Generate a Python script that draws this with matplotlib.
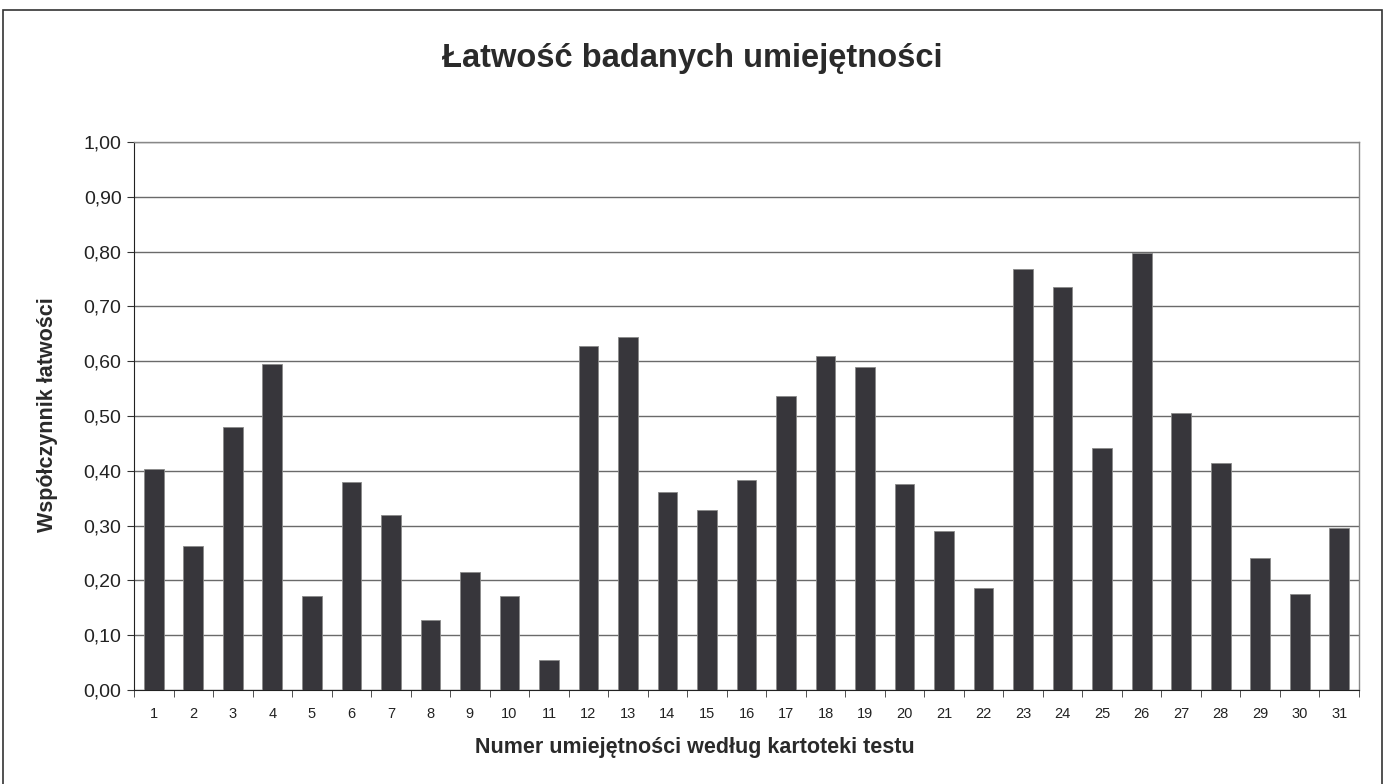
import matplotlib
matplotlib.use("Agg")
import matplotlib.pyplot as plt
from matplotlib.patches import Rectangle
from matplotlib.ticker import FixedLocator, FuncFormatter

plt.rcParams['font.family'] = ['Liberation Sans', 'DejaVu Sans']

categories = [str(i) for i in range(1, 32)]
values = [0.404, 0.262, 0.480, 0.594, 0.171, 0.379, 0.320, 0.128, 0.215, 0.171,
          0.055, 0.627, 0.645, 0.361, 0.328, 0.383, 0.536, 0.609, 0.590, 0.375,
          0.291, 0.186, 0.769, 0.736, 0.441, 0.798, 0.506, 0.415, 0.241, 0.175,
          0.296]
y_ticks = [0.0, 0.1, 0.2, 0.3, 0.4, 0.5, 0.6, 0.7, 0.8, 0.9, 1.0]

title = "Łatwość badanych umiejętności"
xlabel = "Numer umiejętności według kartoteki testu"
ylabel = "Współczynnik łatwości"

fig = plt.figure(figsize=(13.85, 7.84), dpi=100)
fig.patch.set_facecolor('white')
# outer chart frame
fig.add_artist(Rectangle((0.0025, -0.01), 0.995, 0.997, transform=fig.transFigure,
                         fill=False, edgecolor='#333333', linewidth=1.2))

ax = fig.add_axes([0.0968, 0.1199, 0.8844, 0.699])
x = list(range(1, len(values) + 1))
ax.bar(x, values, width=0.5, color='#37363b', edgecolor='#8a8a8a', linewidth=0.6, zorder=3)

ax.set_xlim(0.5, len(values) + 0.5)
ax.set_ylim(0, 1.0)
ax.set_yticks(y_ticks)
ax.yaxis.set_major_formatter(FuncFormatter(lambda v, p: f"{v:.2f}".replace('.', ',')))
ax.grid(axis='y', color='#6a6a6a', linewidth=1.0, zorder=0)

ax.set_xticks(x)
ax.set_xticklabels(categories, fontsize=10.5, color='#222222')
ax.tick_params(axis='x', which='major', length=0, pad=12)
ax.xaxis.set_minor_locator(FixedLocator([i + 0.5 for i in range(0, len(values) + 1)]))
ax.tick_params(axis='x', which='minor', length=5, direction='out', color='#333333')
ax.tick_params(axis='y', which='major', length=5, direction='out', labelsize=14,
               color='#333333', labelcolor='#222222', pad=4)

for s in ['top', 'right']:
    ax.spines[s].set_color('#888888')
    ax.spines[s].set_linewidth(1.0)
ax.spines['left'].set_color('#222222')
ax.spines['bottom'].set_color('#222222')

fig.text(0.5, 0.926, title, ha='center', va='center', fontsize=23.5, fontweight='bold', color='#2a2a2a')
fig.text(0.502, 0.047, xlabel, ha='center', va='center', fontsize=15.5, fontweight='bold', color='#2a2a2a')
fig.text(0.034, 0.471, ylabel, ha='center', va='center', rotation=90, fontsize=15.5, fontweight='bold', color='#2a2a2a')

fig.savefig('out.png', dpi=100, facecolor='white')
